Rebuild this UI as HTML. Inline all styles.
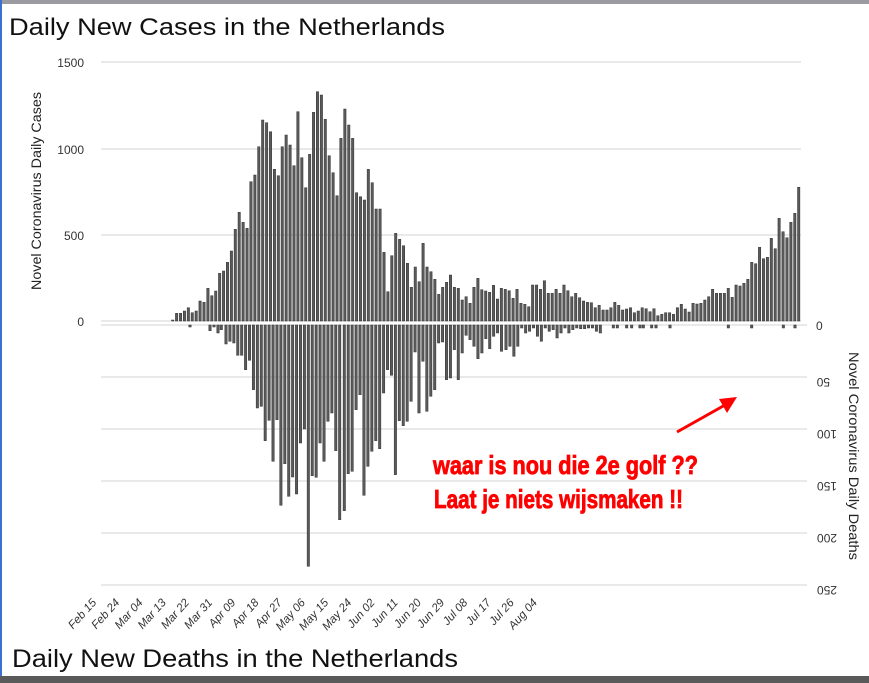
<!DOCTYPE html>
<html><head><meta charset="utf-8"><style>
html,body{margin:0;padding:0;background:#fff;}
svg{display:block;}
text{font-family:"Liberation Sans",sans-serif;}
</style></head><body>
<svg id="s" width="869" height="683" viewBox="0 0 869 683" xmlns="http://www.w3.org/2000/svg">
<rect x="0" y="0" width="869" height="683" fill="#fff"/>
<rect x="0" y="0" width="869" height="4" fill="#9a9aa0"/>
<rect x="0" y="0" width="2" height="683" fill="#3b6fd0"/>
<rect x="0" y="676" width="869" height="7" fill="#5a5a5a"/>
<text x="9" y="35" font-size="24" textLength="436" lengthAdjust="spacingAndGlyphs" fill="#111">Daily New Cases in the Netherlands</text>
<text x="12" y="667" font-size="25" textLength="446" lengthAdjust="spacingAndGlyphs" fill="#111">Daily New Deaths in the Netherlands</text>
<g stroke="#dcdcdc" stroke-width="1.2">
<line x1="101" y1="62" x2="801" y2="62"/>
<line x1="101" y1="149" x2="801" y2="149"/>
<line x1="101" y1="235" x2="801" y2="235"/>
<line x1="101" y1="321" x2="801" y2="321"/>
<line x1="101" y1="325" x2="807" y2="325"/>
<line x1="101" y1="377" x2="807" y2="377"/>
<line x1="101" y1="429" x2="807" y2="429"/>
<line x1="101" y1="481" x2="807" y2="481"/>
<line x1="101" y1="533" x2="807" y2="533"/>
<line x1="101" y1="585" x2="807" y2="585"/>
</g>
<g font-size="12" fill="#333" text-anchor="end">
<text x="84" y="67">1500</text>
<text x="84" y="154">1000</text>
<text x="84" y="240">500</text>
<text x="84" y="326">0</text>
</g>
<g font-size="12" fill="#333">
<text x="816" y="330">0</text>
<text transform="translate(830,378) rotate(180)">50</text>
<text transform="translate(837,430) rotate(180)">100</text>
<text transform="translate(837,482) rotate(180)">150</text>
<text transform="translate(837,534) rotate(180)">200</text>
<text transform="translate(837,586) rotate(180)">250</text>
</g>
<text transform="translate(41,191) rotate(-90)" font-size="14" fill="#222" text-anchor="middle" textLength="198" lengthAdjust="spacingAndGlyphs">Novel Coronavirus Daily Cases</text>
<text transform="translate(849,456) rotate(90)" font-size="14" fill="#222" text-anchor="middle" textLength="208" lengthAdjust="spacingAndGlyphs">Novel Coronavirus Daily Deaths</text>
<g id="bars" fill="#5a5a5a" stroke="#333" stroke-width="0.5"></g>
<g id="xl" font-size="11.5" fill="#333" font-style="italic"></g>
<text x="433" y="474" font-size="26" font-weight="bold" fill="#f00" stroke="#f00" stroke-width="0.8" textLength="265" lengthAdjust="spacingAndGlyphs" font-family="Liberation Sans Narrow, Liberation Sans, sans-serif">waar is nou die 2e golf ??</text>
<text x="434" y="508" font-size="26" font-weight="bold" fill="#f00" stroke="#f00" stroke-width="0.8" textLength="249" lengthAdjust="spacingAndGlyphs" font-family="Liberation Sans Narrow, Liberation Sans, sans-serif">Laat je niets wijsmaken !!</text>
<line x1="677" y1="432" x2="725" y2="405" stroke="#f00" stroke-width="3"/>
<polygon points="737,397 719,399 727,413" fill="#f00"/>
</svg>
<script>
var NS="http://www.w3.org/2000/svg";
var g=document.getElementById("bars");
function r(x,y,w,h){var e=document.createElementNS(NS,"rect");e.setAttribute("x",x-1.2);e.setAttribute("y",y);e.setAttribute("width",2.4);e.setAttribute("height",Math.max(h,0.8));g.appendChild(e);}
var c=[320,313.3,313.3,311,307.7,312.7,311,301,302.3,288.3,295.7,291,273.3,271,262.3,251,229.3,212.3,222.3,228.3,181.7,175,146.7,120,122.7,131.7,169.3,175.7,146.7,135,145,165.7,111.7,157.7,187.7,154.3,112.3,91.7,95,119.3,155.7,172.7,195.7,
138.3,109,125,138.3,192.7,196.7,200,169.3,182.7,209,209,252.3,291.7,255.7,233.3,239.3,245.7,263.3,287.3,267,281.7,243.3,267,271.7,279.3,294.3,287.3,282.3,275,287.3,288.3,300,296.7,303.3,287.3,278.3,289.7,291,292.3,285.3,299,288.3,
289.3,290.7,298.3,289.3,303.3,304.3,306.7,285,285,289.3,280.7,293.3,293.3,289.3,293.3,285,290.7,296.7,293.3,297.7,301,302.3,302.7,307.7,305.3,310,310,307.7,302.3,305.3,310,309,307.7,312.7,311,307.7,308.7,311.7,308.7,315.7,314.3,312.7,312.7,314.3,307.7,304.3,309,312,303.3,304,303.3,300,296.7,289.3,293.3,293.3,293.3,288.3,297.3,285,286,283.3,279.3,262.3,263.7,247.3,258.7,257.3,238.3,248.7,218.3,231.7,237.7,222.3,213.3,187.3];
var step=(798.7-172.7)/(c.length-1);
for(var i=0;i<c.length;i++){r(172.7+i*step,c[i],0,321-c[i]);}
function d(x,y){r(x,325,0,y-325);}
var A=[344,341.3,343,355.3,355.3,369.7,360.3,389.7,408,406.3,440.7,420.3,461.3,419.7,505.3,463.7,496.3,477,494,443,429,566.3,475.7,477.3,443,461.3,421.3,413,450.7,519.7];
for(i=0;i<A.length;i++)d(226+i*3.92,A[i]);
var B=[510.7,473.7,471.3,409.7,394.7,495.3,466.3,451.3,440.7,448.7,393,369.7,375.3,474.7,420.7,425.7,421.3,401.3,352,413,361.3,411.3,396.3,389.7,343,342,379.7,378,349.7,379.7,353,335.3,339.7,346.3,358.7,353,338.7,348.7,336.3,333,351.3];
for(i=0;i<B.length;i++)d(344.3+i*3.93,B[i]);
var C=[349.7,346.3,356.3,346.3,328,333,331.3,328,336.3,341.3,328,331.3,329.7,338,333,328,333,329.7,328,328.7,328.7,328,328,331.3,333];
for(i=0;i<C.length;i++)d(506+i*3.93,C[i]);
[340,352,380,395,420,430,455,468,510,685,755,850,885].forEach(function(v){d(500+v/3,328);});
d(190,327);d(210,330.7);d(214,327);d(218,333);d(221.3,329.7);
var L=["Feb 15","Feb 24","Mar 04","Mar 13","Mar 22","Mar 31","Apr 09","Apr 18","Apr 27","May 06","May 15","May 24","Jun 02","Jun 11","Jun 20","Jun 29","Jul 08","Jul 17","Jul 26","Aug 04"];
var xl=document.getElementById("xl");
for(i=0;i<L.length;i++){var t=document.createElementNS(NS,"text");var x=97+i*23.2,y=603;t.setAttribute("transform","translate("+x+","+y+") rotate(-48)");t.setAttribute("text-anchor","end");t.textContent=L[i];xl.appendChild(t);}
</script>
</body></html>
